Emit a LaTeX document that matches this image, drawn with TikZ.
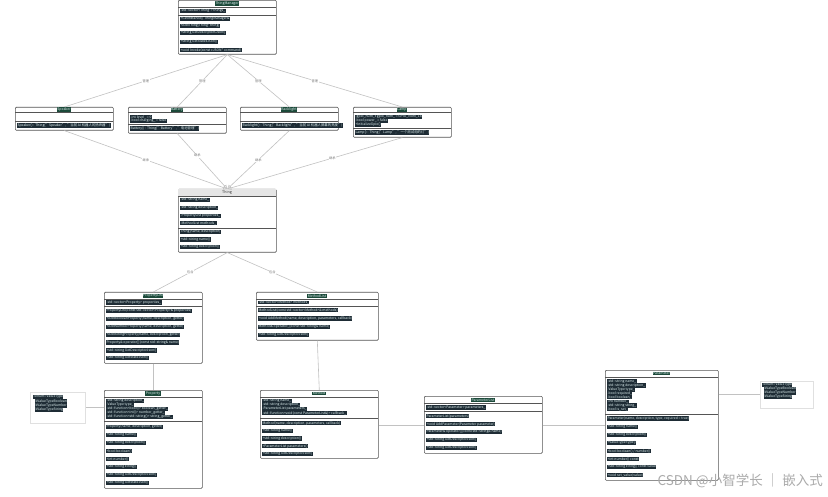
\documentclass[tikz,border=0pt]{standalone}
\usepackage{fontspec}
\setmainfont{Noto Sans CJK SC}
\usetikzlibrary{arrows.meta}
\definecolor{memfill}{HTML}{1E2C35}
\definecolor{memtext}{HTML}{DDEEEE}
\definecolor{hdrfill}{HTML}{1C4A3A}
\definecolor{boxline}{HTML}{555555}
\definecolor{conn}{HTML}{C2C2C2}
\definecolor{lbl}{HTML}{777777}
\tikzset{
  clsbox/.style={draw=boxline, line width=0.6pt, rounded corners=1pt, fill=white, inner sep=0pt, anchor=north west},
  enumbox/.style={draw=black!12, line width=0.5pt, fill=white, inner sep=0pt, anchor=north west},
  sepline/.style={draw=boxline, line width=0.5pt},
  mem/.style={anchor=west, fill=memfill, text=memtext, inner sep=0.35pt, font=\fontsize{3.4}{3.6}\selectfont},
  hdr/.style={fill=hdrfill, text=memtext, inner sep=0.4pt, font=\fontsize{3.5}{3.7}\selectfont},
  hdrplain/.style={text=black!80, inner sep=0.4pt, font=\fontsize{3.6}{3.8}\selectfont},
  link/.style={draw=conn, line width=0.6pt},
  inh/.style={link, -{Triangle[open, length=4pt, width=4pt]}},
  elabel/.style={fill=white, text=lbl, inner sep=0.5pt, font=\fontsize{3.2}{3.4}\selectfont}
}
\newcommand\mrow[4]{\node[mem] (#1) at (#2,#3) {#4};}
\begin{document}
\begin{tikzpicture}[x=1pt, y=-1pt]
\useasboundingbox[fill=white] (0,0) rectangle (828,497);

% ---------- ThingManager ----------
\node[clsbox, minimum width=98pt, minimum height=54pt] (tm) at (178,0) {};
\node[hdr] (tmh) at (227,3.5) {ThingManager};
\draw[sepline] (178,7) -- (276,7);
\mrow{tma}{180}{11}{-std::vector<Thing*> things\_}
\draw[sepline] (178,15) -- (276,15);
\mrow{tm1}{180}{19}{+GetInstance() ThingManager\&}
\mrow{tm2}{180}{26}{+AddThing(Thing* thing)}
\mrow{tm3}{180}{33}{+string GetDescriptorsJson()}
\mrow{tm4}{180}{42}{+string GetStatesJson()}
\mrow{tm5}{180}{50}{+void Invoke(const cJSON* command)}

% ---------- Speaker ----------
\node[clsbox, minimum width=98pt, minimum height=23pt] (sp) at (15,107) {};
\node[hdr] (sph) at (64,109.6) {Speaker};
\draw[sepline] (15,112.5) -- (113,112.5);
\draw[sepline] (15,121) -- (113,121);
\mrow{sp1}{17}{125.5}{Speaker() : Thing("Speaker", "当前 AI 机器人的扬声器")}

% ---------- Battery ----------
\node[clsbox, minimum width=98pt, minimum height=26pt] (bt) at (128,107) {};
\node[hdr] (bth) at (177,109.6) {Battery};
\draw[sepline] (128,112.5) -- (226,112.5);
\mrow{bta}{130}{117}{-int level\_ = 0}
\mrow{btb}{130}{121}{-bool charging\_ = false}
\draw[sepline] (128,124.5) -- (226,124.5);
\mrow{bt1}{130}{128.5}{Battery() : Thing("Battery", "电池管理")}

% ---------- Backlight ----------
\node[clsbox, minimum width=98pt, minimum height=23pt] (sc) at (240,107) {};
\node[hdr] (sch) at (289,109.6) {Backlight};
\draw[sepline] (240,112.5) -- (338,112.5);
\draw[sepline] (240,121) -- (338,121);
\mrow{sc1}{242}{125.5}{Backlight() : Thing("Backlight", "当前 AI 机器人屏幕的亮度")}

% ---------- Lamp ----------
\node[clsbox, minimum width=98pt, minimum height=30pt] (lp) at (353,107) {};
\node[hdr] (lph) at (402,109.6) {Lamp};
\draw[sepline] (353,112.5) -- (451,112.5);
\mrow{lpa}{355}{117}{-gpio\_num\_t gpio\_num\_ = GPIO\_NUM\_18}
\mrow{lpb}{355}{121}{-bool power\_ = false}
\mrow{lpc}{355}{125}{+InitializeGpio()}
\draw[sepline] (353,128.5) -- (451,128.5);
\mrow{lp1}{355}{132.5}{Lamp() : Thing("Lamp", "一个测试用的灯")}

% ---------- Thing ----------
\node[clsbox, minimum width=98pt, minimum height=63pt] (th) at (178,189) {};
\fill[black!10] (178.3,189.3) rectangle (275.7,196);
\node[hdrplain] (thh) at (227,192.6) {Thing};
\draw[sepline] (178,196) -- (276,196);
\mrow{tha}{180}{200}{-std::string name\_}
\mrow{thb}{180}{208}{-std::string description\_}
\mrow{thc}{180}{216}{-PropertyList properties\_}
\mrow{thd}{180}{223}{-MethodList methods\_}
\draw[sepline] (178,228) -- (276,228);
\mrow{th1}{180}{232}{Thing(name, description)}
\mrow{th2}{180}{239.5}{+std::string name()}
\mrow{th3}{180}{247}{+std::string description()}

% ---------- PropertyList ----------
\node[clsbox, minimum width=98pt, minimum height=71pt] (pl) at (104,292) {};
\node[hdr] (plh) at (153,295.8) {PropertyList};
\draw[sepline] (104,299) -- (202,299);
\mrow{pla}{106}{302.5}{-std::vector<Property> properties\_}
\draw[sepline] (104,306.5) -- (202,306.5);
\mrow{pl1}{106}{311}{PropertyList(const std::vector<Property>\& properties)}
\mrow{pl2}{106}{319}{+AddBooleanProperty(name, description, getter)}
\mrow{pl3}{106}{327}{+AddNumberProperty(name, description, getter)}
\mrow{pl4}{106}{335}{+AddStringProperty(name, description, getter)}
\mrow{pl5}{106}{342.5}{Property\& operator[](const std::string\& name)}
\mrow{pl6}{106}{350.5}{+std::string GetDescriptorJson()}
\mrow{pl7}{106}{358}{+std::string GetStateJson()}

% ---------- MethodList ----------
\node[clsbox, minimum width=122pt, minimum height=48pt] (ml) at (256,292) {};
\node[hdr] (mlh) at (317,295.8) {MethodList};
\draw[sepline] (256,299) -- (378,299);
\mrow{mla}{258}{302.5}{-std::vector<Method> methods\_}
\draw[sepline] (256,306) -- (378,306);
\mrow{ml1}{258}{310}{MethodList(const std::vector<Method>\& methods)}
\mrow{ml2}{258}{318.5}{+void AddMethod(name, description, parameters, callback)}
\mrow{ml3}{258}{327}{Method\& operator[](const std::string\& name)}
\mrow{ml4}{258}{335}{+std::string GetDescriptorJson()}

% ---------- Property ----------
\node[clsbox, minimum width=98pt, minimum height=98pt] (pr) at (104,390) {};
\node[hdr] (prh) at (153,393.5) {Property};
\draw[sepline] (104,397.5) -- (202,397.5);
\mrow{pra}{106}{401}{-std::string description\_}
\mrow{prb}{106}{405}{-ValueType type\_}
\mrow{prc}{106}{409}{-std::function<bool()> boolean\_getter\_}
\mrow{prd}{106}{413}{-std::function<int()> number\_getter\_}
\mrow{pre}{106}{417}{-std::function<std::string()> string\_getter\_}
\draw[sepline] (104,421.5) -- (202,421.5);
\mrow{pr1}{106}{427}{Property(name, description, getter)}
\mrow{pr2}{106}{435}{+std::string name()}
\mrow{pr3}{106}{443}{+std::string description()}
\mrow{pr4}{106}{451}{+bool boolean()}
\mrow{pr5}{106}{459}{+int number()}
\mrow{pr6}{106}{467}{+std::string string()}
\mrow{pr7}{106}{475}{+std::string GetDescriptorJson()}
\mrow{pr8}{106}{483}{+std::string GetStateJson()}

% ---------- Method ----------
\node[clsbox, minimum width=118pt, minimum height=68pt] (me) at (260,390) {};
\node[hdr] (meh) at (319,393.5) {Method};
\draw[sepline] (260,397) -- (378,397);
\mrow{mea}{262}{401}{-std::string name\_}
\mrow{meb}{262}{405}{-std::string description\_}
\mrow{mec}{262}{409}{-ParameterList parameters\_}
\mrow{med}{262}{413}{-std::function<void(const ParameterList\&)> callback\_}
\draw[sepline] (260,418.5) -- (378,418.5);
\mrow{me1}{262}{423}{Method(name, description, parameters, callback)}
\mrow{me2}{262}{431}{+std::string name()}
\mrow{me3}{262}{438.5}{+std::string description()}
\mrow{me4}{262}{446}{+ParameterList parameters()}
\mrow{me5}{262}{454}{+std::string GetDescriptorJson()}

% ---------- ParameterList ----------
\node[clsbox, minimum width=118pt, minimum height=57pt] (pa) at (424,396) {};
\node[hdr] (pah) at (483,399.8) {ParameterList};
\draw[sepline] (424,403) -- (542,403);
\mrow{paa}{426}{407.5}{-std::vector<Parameter> parameters\_}
\draw[sepline] (424,411.5) -- (542,411.5);
\mrow{pa1}{426}{416}{ParameterList(parameters)}
\mrow{pa2}{426}{424}{+void AddParameter(Parameter parameter)}
\mrow{pa3}{426}{432}{Parameter\& operator[](const std::string\& name)}
\mrow{pa4}{426}{440}{+std::string GetDescriptorJson()}
\mrow{pa5}{426}{448}{+std::string GetDescriptorJson()}

% ---------- Parameter ----------
\node[clsbox, minimum width=113pt, minimum height=110pt] (pm) at (605,370) {};
\node[hdr] (pmh) at (661.5,373.3) {Parameter};
\draw[sepline] (605,377) -- (718,377);
\mrow{pma}{607}{381.5}{-std::string name\_}
\mrow{pmb}{607}{385.5}{-std::string description\_}
\mrow{pmc}{607}{389.5}{-ValueType type\_}
\mrow{pmd}{607}{393.5}{-bool required\_}
\mrow{pme}{607}{397.5}{-bool boolean\_}
\mrow{pmf}{607}{401.5}{-int number\_}
\mrow{pmg}{607}{405.5}{-std::string string\_}
\mrow{pmi}{607}{409.5}{-bool is\_set\_}
\draw[sepline] (605,414) -- (718,414);
\mrow{pm1}{607}{418.5}{Parameter(name, description, type, required = true)}
\mrow{pm2}{607}{427}{+std::string name()}
\mrow{pm3}{607}{435}{+std::string description()}
\mrow{pm4}{607}{443}{+ValueType type()}
\mrow{pm5}{607}{451}{+bool boolean() / number()}
\mrow{pm6}{607}{459}{+int number() const}
\mrow{pm7}{607}{467}{+std::string string() const value}
\mrow{pm8}{607}{475}{+void set\_value(value)}

% ---------- ValueType (left) ----------
\node[enumbox, minimum width=55pt, minimum height=31pt] (vt1) at (30,392) {};
\mrow{vt1h}{33}{397}{«enum» ValueType}
\mrow{vt1a}{35}{401.5}{kValueTypeBoolean}
\mrow{vt1b}{35}{405.5}{kValueTypeNumber}
\mrow{vt1c}{35}{409.5}{kValueTypeString}

% ---------- ValueType (right) ----------
\node[enumbox, minimum width=53pt, minimum height=27pt] (vt2) at (760,381) {};
\mrow{vt2h}{762}{385}{«enum» ValueType}
\mrow{vt2a}{764}{389}{kValueTypeBoolean}
\mrow{vt2b}{764}{393}{kValueTypeNumber}
\mrow{vt2c}{764}{397}{kValueTypeString}

% ---------- connectors ----------
\draw[link] (tm.south) -- node[elabel, pos=0.5] (l1) {管理} (sp.north);
\draw[link] (tm.south) -- node[elabel, pos=0.5] (l2) {管理} (bt.north);
\draw[link] (tm.south) -- node[elabel, pos=0.5] (l3) {管理} (sc.north);
\draw[link] (tm.south) -- node[elabel, pos=0.5] (l4) {管理} (lp.north);

\draw[inh] (sp.south) -- node[elabel, pos=0.5] (l5) {继承} (th.north);
\draw[inh] (bt.south) -- node[elabel, pos=0.4] (l6) {继承} (th.north);
\draw[inh] (sc.south) -- node[elabel, pos=0.5] (l7) {继承} (th.north);
\draw[inh] (lp.south) -- node[elabel, pos=0.4] (l8) {继承} (th.north);

\draw[link] (th.south) -- node[elabel, pos=0.5] (l9) {包含} (pl.north);
\draw[link] (th.south) -- node[elabel, pos=0.5] (l10) {包含} (ml.north);

\draw[link] (pl.south) -- (pr.north);
\draw[link] (ml.south) -- (me.north);
\draw[link] (me.east |- pa.west) -- (pa.west);
\draw[link] (pa.east) -- (pm.west |- pa.east);
\draw[link] (pr.west |- vt1.east) -- (vt1.east);
\draw[link] (pm.east |- vt2.west) -- (vt2.west);

% ---------- watermark ----------
\node[text=black!33, font=\fontsize{13.5}{14}\selectfont, anchor=east, inner sep=0pt] (wm) at (823,481) {CSDN @小智学长 ｜ 嵌入式};
\end{tikzpicture}
\end{document}
